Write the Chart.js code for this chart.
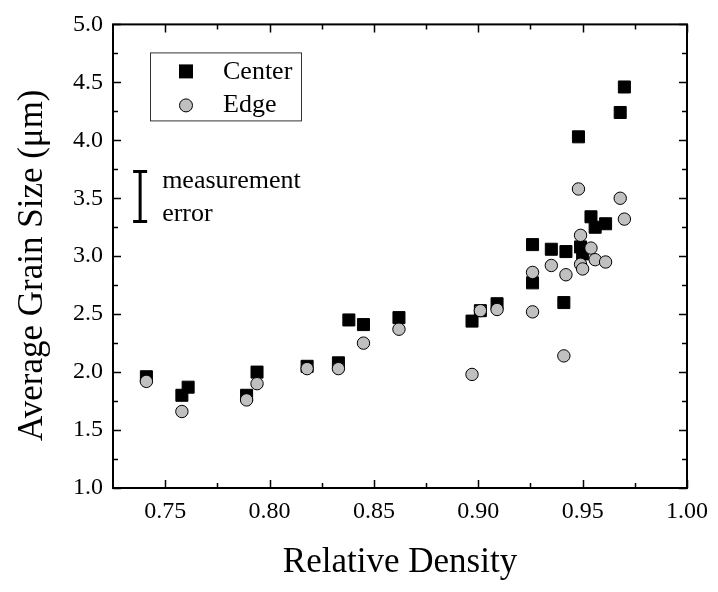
<!DOCTYPE html>
<html>
<head>
<meta charset="utf-8">
<script src="https://cdn.jsdelivr.net/npm/chart.js@4"></script>
<style>
  html, body { margin: 0; padding: 0; background: #fff; }
  #wrap { width: 718px; height: 592px; }
</style>
</head>
<body>
<div id="wrap"><canvas id="grain-chart" width="718" height="592"></canvas></div>
<script>
// values
const centerDensity = [0.741, 0.758, 0.761, 0.789, 0.794, 0.818, 0.833, 0.838, 0.845, 0.862,
  0.897, 0.901, 0.909, 0.926, 0.926, 0.935, 0.942, 0.941, 0.948, 0.949, 0.950, 0.954,
  0.956, 0.961, 0.968, 0.970];
const centerGrain = [1.96, 1.80, 1.87, 1.80, 2.00, 2.05, 2.08, 2.45, 2.41, 2.47,
  2.44, 2.53, 2.59, 3.10, 2.77, 3.06, 3.04, 2.60, 4.03, 3.08, 3.02, 3.34,
  3.25, 3.28, 4.24, 4.46];

const edgeDensity = [0.741, 0.758, 0.789, 0.794, 0.818, 0.833, 0.845, 0.862, 0.897, 0.901,
  0.909, 0.926, 0.926, 0.935, 0.942, 0.941, 0.948, 0.949, 0.949, 0.950, 0.954, 0.956,
  0.961, 0.968, 0.970];
const edgeGrain = [1.92, 1.66, 1.76, 1.90, 2.03, 2.03, 2.25, 2.37, 1.98, 2.53,
  2.54, 2.52, 2.86, 2.92, 2.84, 2.14, 3.58, 3.18, 2.93, 2.89, 3.07, 2.97,
  2.95, 3.50, 3.32];

const xTicks = [0.75, 0.80, 0.85, 0.90, 0.95, 1.00];
const xMinorTicks = [0.775, 0.825, 0.875, 0.925, 0.975];
const yTicks = [1.0, 1.5, 2.0, 2.5, 3.0, 3.5, 4.0, 4.5, 5.0];
const yMinorTicks = [1.25, 1.75, 2.25, 2.75, 3.25, 3.75, 4.25, 4.75];

const legendLabels = ["Center", "Edge"];
const yTitle = "Average Grain Size (μm)";
// measurement error bar (data units)
const errorBarX = 0.738;
const errorBarRange = [3.30, 3.73];
const errorBarText = ["measurement", "error"];

const serif = "'Liberation Serif', 'Times New Roman', serif";

function toPoints(xs, ys) {
  return xs.map((x, i) => ({ x: x, y: ys[i] }));
}

const frameAndNotes = {
  id: "frameAndNotes",
  afterDraw(chart) {
    const { ctx, chartArea: a, scales: { x, y } } = chart;
    ctx.save();
    ctx.strokeStyle = "#000";

    // inward ticks on all four sides
    ctx.lineWidth = 1.5;
    const tickX = (vals, len) => vals.forEach(v => {
      const px = Math.round(x.getPixelForValue(v)) + 0.5;
      ctx.beginPath();
      ctx.moveTo(px, a.bottom); ctx.lineTo(px, a.bottom - len);
      ctx.moveTo(px, a.top); ctx.lineTo(px, a.top + len);
      ctx.stroke();
    });
    const tickY = (vals, len) => vals.forEach(v => {
      const py = Math.round(y.getPixelForValue(v)) + 0.5;
      ctx.beginPath();
      ctx.moveTo(a.left, py); ctx.lineTo(a.left + len, py);
      ctx.moveTo(a.right, py); ctx.lineTo(a.right - len, py);
      ctx.stroke();
    });
    tickX(xTicks, 8);
    tickX(xMinorTicks, 5);
    tickY(yTicks, 8);
    tickY(yMinorTicks, 5);

    // frame
    ctx.lineWidth = 2;
    ctx.strokeRect(a.left, a.top, a.right - a.left, a.bottom - a.top);

    // y title, a little below the plot centre as in the figure
    ctx.fillStyle = "#000";
    ctx.save();
    ctx.translate(42, (a.top + a.bottom) / 2 + 9);
    ctx.rotate(-Math.PI / 2);
    ctx.font = "35px " + serif;
    ctx.textAlign = "center";
    ctx.textBaseline = "alphabetic";
    ctx.fillText(yTitle, 0, 0);
    ctx.restore();

    // legend box
    const lx = a.left + 37, ly = a.top + 28, lw = 151, lh = 68;
    ctx.lineWidth = 1;
    ctx.strokeStyle = "#333";
    ctx.fillStyle = "#fff";
    ctx.fillRect(lx, ly, lw, lh);
    ctx.strokeRect(lx + 0.5, ly + 0.5, lw, lh);
    ctx.fillStyle = "#000";
    ctx.fillRect(lx + 29, ly + 12, 14, 14);
    ctx.beginPath();
    ctx.arc(lx + 36, ly + 53, 6.5, 0, Math.PI * 2);
    ctx.fillStyle = "#c0c0c0";
    ctx.fill();
    ctx.strokeStyle = "#000";
    ctx.stroke();
    ctx.fillStyle = "#000";
    ctx.font = "26px " + serif;
    ctx.textBaseline = "alphabetic";
    ctx.fillText(legendLabels[0], lx + 73, ly + 27);
    ctx.fillText(legendLabels[1], lx + 73, ly + 60);

    // measurement error bar
    const ex = x.getPixelForValue(errorBarX);
    const eTop = y.getPixelForValue(errorBarRange[1]);
    const eBot = y.getPixelForValue(errorBarRange[0]);
    ctx.lineWidth = 3;
    ctx.beginPath();
    ctx.moveTo(ex, eTop); ctx.lineTo(ex, eBot);
    ctx.moveTo(ex - 7, eTop); ctx.lineTo(ex + 7, eTop);
    ctx.moveTo(ex - 7, eBot); ctx.lineTo(ex + 7, eBot);
    ctx.stroke();
    ctx.fillText(errorBarText[0], ex + 22, eTop + 16);
    ctx.fillText(errorBarText[1], ex + 22, eTop + 49);

    ctx.restore();
  }
};

new Chart(document.getElementById("grain-chart"), {
  type: "scatter",
  data: {
    datasets: [
      {
        label: legendLabels[0],
        data: toPoints(centerDensity, centerGrain),
        pointStyle: "rect",
        pointRadius: 8.5,
        backgroundColor: "#000",
        borderColor: "#000",
        borderWidth: 1,
        order: 1,
      },
      {
        label: legendLabels[1],
        data: toPoints(edgeDensity, edgeGrain),
        pointStyle: "circle",
        pointRadius: 6.2,
        backgroundColor: "#c0c0c0",
        borderColor: "#000",
        borderWidth: 1,
        order: 0,
      },
    ],
  },
  options: {
    responsive: false,
    animation: false,
    layout: { padding: { top: 23, right: 31, left: 0, bottom: 0 } },
    plugins: { legend: { display: false }, tooltip: { enabled: false } },
    scales: {
      x: {
        type: "linear",
        min: 0.725,
        max: 1.0,
        afterBuildTicks: scale => { scale.ticks = xTicks.map(v => ({ value: v })); },
        afterFit: scale => { scale.height = 104; },
        grid: { display: false, drawTicks: false },
        border: { display: false },
        ticks: {
          color: "#000",
          padding: 9,
          font: { family: serif, size: 24 },
          callback: v => v.toFixed(2),
        },
        title: {
          display: true,
          text: "Relative Density",
          color: "#000",
          font: { family: serif, size: 35 },
          padding: { top: 0, bottom: 8 },
        },
      },
      y: {
        type: "linear",
        min: 1.0,
        max: 5.0,
        afterBuildTicks: scale => { scale.ticks = yTicks.map(v => ({ value: v })); },
        afterFit: scale => { scale.width = 113; },
        grid: { display: false, drawTicks: false },
        border: { display: false },
        ticks: {
          color: "#000",
          padding: 10,
          font: { family: serif, size: 24 },
          callback: v => v.toFixed(1),
        },
        title: { display: false },
      },
    },
  },
  plugins: [frameAndNotes],
});
</script>
</body>
</html>
